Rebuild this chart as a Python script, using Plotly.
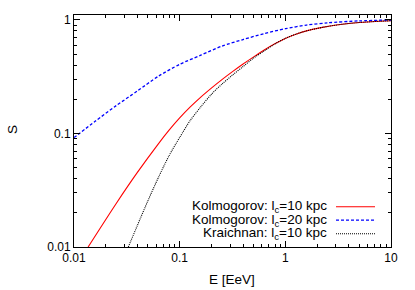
import plotly.graph_objects as go

# Data (energy in EeV, S values)
E_kol10 = [0.0136, 0.0251, 0.0398, 0.0631, 0.0794, 0.1, 0.126, 0.1585, 0.1995, 0.2512, 0.3162,
           0.3981, 0.5012, 0.631, 0.7943, 1.0, 1.259, 1.585, 2.239, 3.162, 5.012, 10]
S_kol10 = [0.01, 0.0242, 0.0454, 0.0815, 0.1069, 0.1371, 0.1714, 0.2094, 0.2512, 0.2985, 0.3508,
           0.4093, 0.4732, 0.5433, 0.6166, 0.6887, 0.7499, 0.8017, 0.861, 0.9078, 0.9506, 0.985]

E_kol20 = [0.01, 0.01585, 0.0251, 0.0398, 0.0631, 0.1, 0.1585, 0.2512, 0.3981, 0.631, 1.0,
           1.585, 2.512, 5.012, 10]
S_kol20 = [0.092, 0.128, 0.176, 0.237, 0.320, 0.407, 0.49, 0.589, 0.673, 0.759, 0.838,
           0.902, 0.944, 0.982, 1.0]

E_kra10 = [0.03266, 0.0398, 0.0501, 0.0631, 0.0794, 0.1, 0.1259, 0.1585, 0.1995, 0.2512, 0.3162,
           0.3981, 0.5012, 0.631, 0.7943, 1.0, 1.259, 1.585, 2.239, 3.162, 5.012, 10]
S_kra10 = [0.01, 0.0155, 0.0256, 0.0412, 0.0638, 0.0923, 0.1303, 0.1718, 0.2213, 0.2723, 0.3273,
           0.389, 0.4624, 0.5346, 0.6138, 0.6887, 0.7499, 0.8017, 0.861, 0.9078, 0.9506, 0.985]

x_ticks = [0.01, 0.1, 1, 10]
x_ticklabels = ["0.01", "0.1", "1", "10"]
y_ticks = [0.01, 0.1, 1]
y_ticklabels = ["0.01", "0.1", "1"]
minor_vals = [k * 10.0 ** p for p in (-2, -1, 0) for k in range(2, 10)]

labels = ["Kolmogorov: l<sub>c</sub>=10 kpc",
          "Kolmogorov: l<sub>c</sub>=20 kpc",
          "Kraichnan: l<sub>c</sub>=10 kpc"]
colors = ["#ff0000", "#0000ff", "#000000"]
dashes = ["solid", "3px,2px", "1px,1px"]
widths = [1.1, 1.3, 1.1]

fig = go.Figure()
for E, S, c, d, w in zip([E_kol10, E_kol20, E_kra10], [S_kol10, S_kol20, S_kra10], colors, dashes, widths):
    fig.add_trace(go.Scatter(x=E, y=S, mode="lines",
                             line=dict(color=c, dash=d, width=w, shape="spline", smoothing=0.8),
                             showlegend=False, hoverinfo="skip"))

L, R, T, B = 74, 24, 15, 43
W, H = 415, 290
pw, ph = W - L - R, H - T - B

def px_to_paper_x(px):
    return (px - L) / pw

def px_to_paper_y(py):
    return (H - B - py) / ph

family = "Liberation Sans, Arial, sans-serif"
font = dict(family=family, size=12, color="#000000")

# custom legend: text on the left, line sample on the right
rows = [206.7, 220.2, 233.7]
for lab, c, d, w, ry in zip(labels, colors, dashes, widths, rows):
    yp = px_to_paper_y(ry)
    fig.add_annotation(x=px_to_paper_x(329), y=yp, xref="paper", yref="paper",
                       text=lab, showarrow=False, xanchor="right", yanchor="middle",
                       font=dict(family=family, size=13.5, color="#000000"))
    fig.add_shape(type="line", xref="paper", yref="paper",
                  x0=px_to_paper_x(336), x1=px_to_paper_x(375), y0=yp, y1=yp,
                  line=dict(color=c, dash=d, width=w))

fig.add_annotation(x=px_to_paper_x(232), y=px_to_paper_y(279), xref="paper", yref="paper",
                   text="E [EeV]", showarrow=False, xanchor="center", yanchor="middle",
                   font=dict(family=family, size=13.5, color="#000000"))
fig.add_annotation(x=px_to_paper_x(12), y=px_to_paper_y(130), xref="paper", yref="paper",
                   text="S", showarrow=False, textangle=-90, xanchor="center", yanchor="middle",
                   font=dict(family=family, size=13.5, color="#000000"))

axis_common = dict(type="log", showgrid=False, zeroline=False, showline=True, linecolor="#000000",
                   linewidth=1, mirror="allticks", ticks="inside", ticklen=6, tickwidth=1,
                   tickcolor="#000000", tickfont=font, tickmode="array",
                   minor=dict(tickmode="array", tickvals=minor_vals, ticks="inside", ticklen=3,
                              tickwidth=1, tickcolor="#000000", showgrid=False))

fig.update_xaxes(range=[-2, 1], tickvals=x_ticks, ticktext=x_ticklabels, **axis_common)
fig.update_yaxes(range=[-2, 0.044], tickvals=y_ticks, ticktext=y_ticklabels, **axis_common)

fig.update_layout(width=W, height=H, margin=dict(l=L, r=R, t=T, b=B),
                  paper_bgcolor="white", plot_bgcolor="white", font=font, hovermode=False)

fig.write_html("out.html", config={"displayModeBar": False},
               post_script="document.body.style.margin='0px';")
